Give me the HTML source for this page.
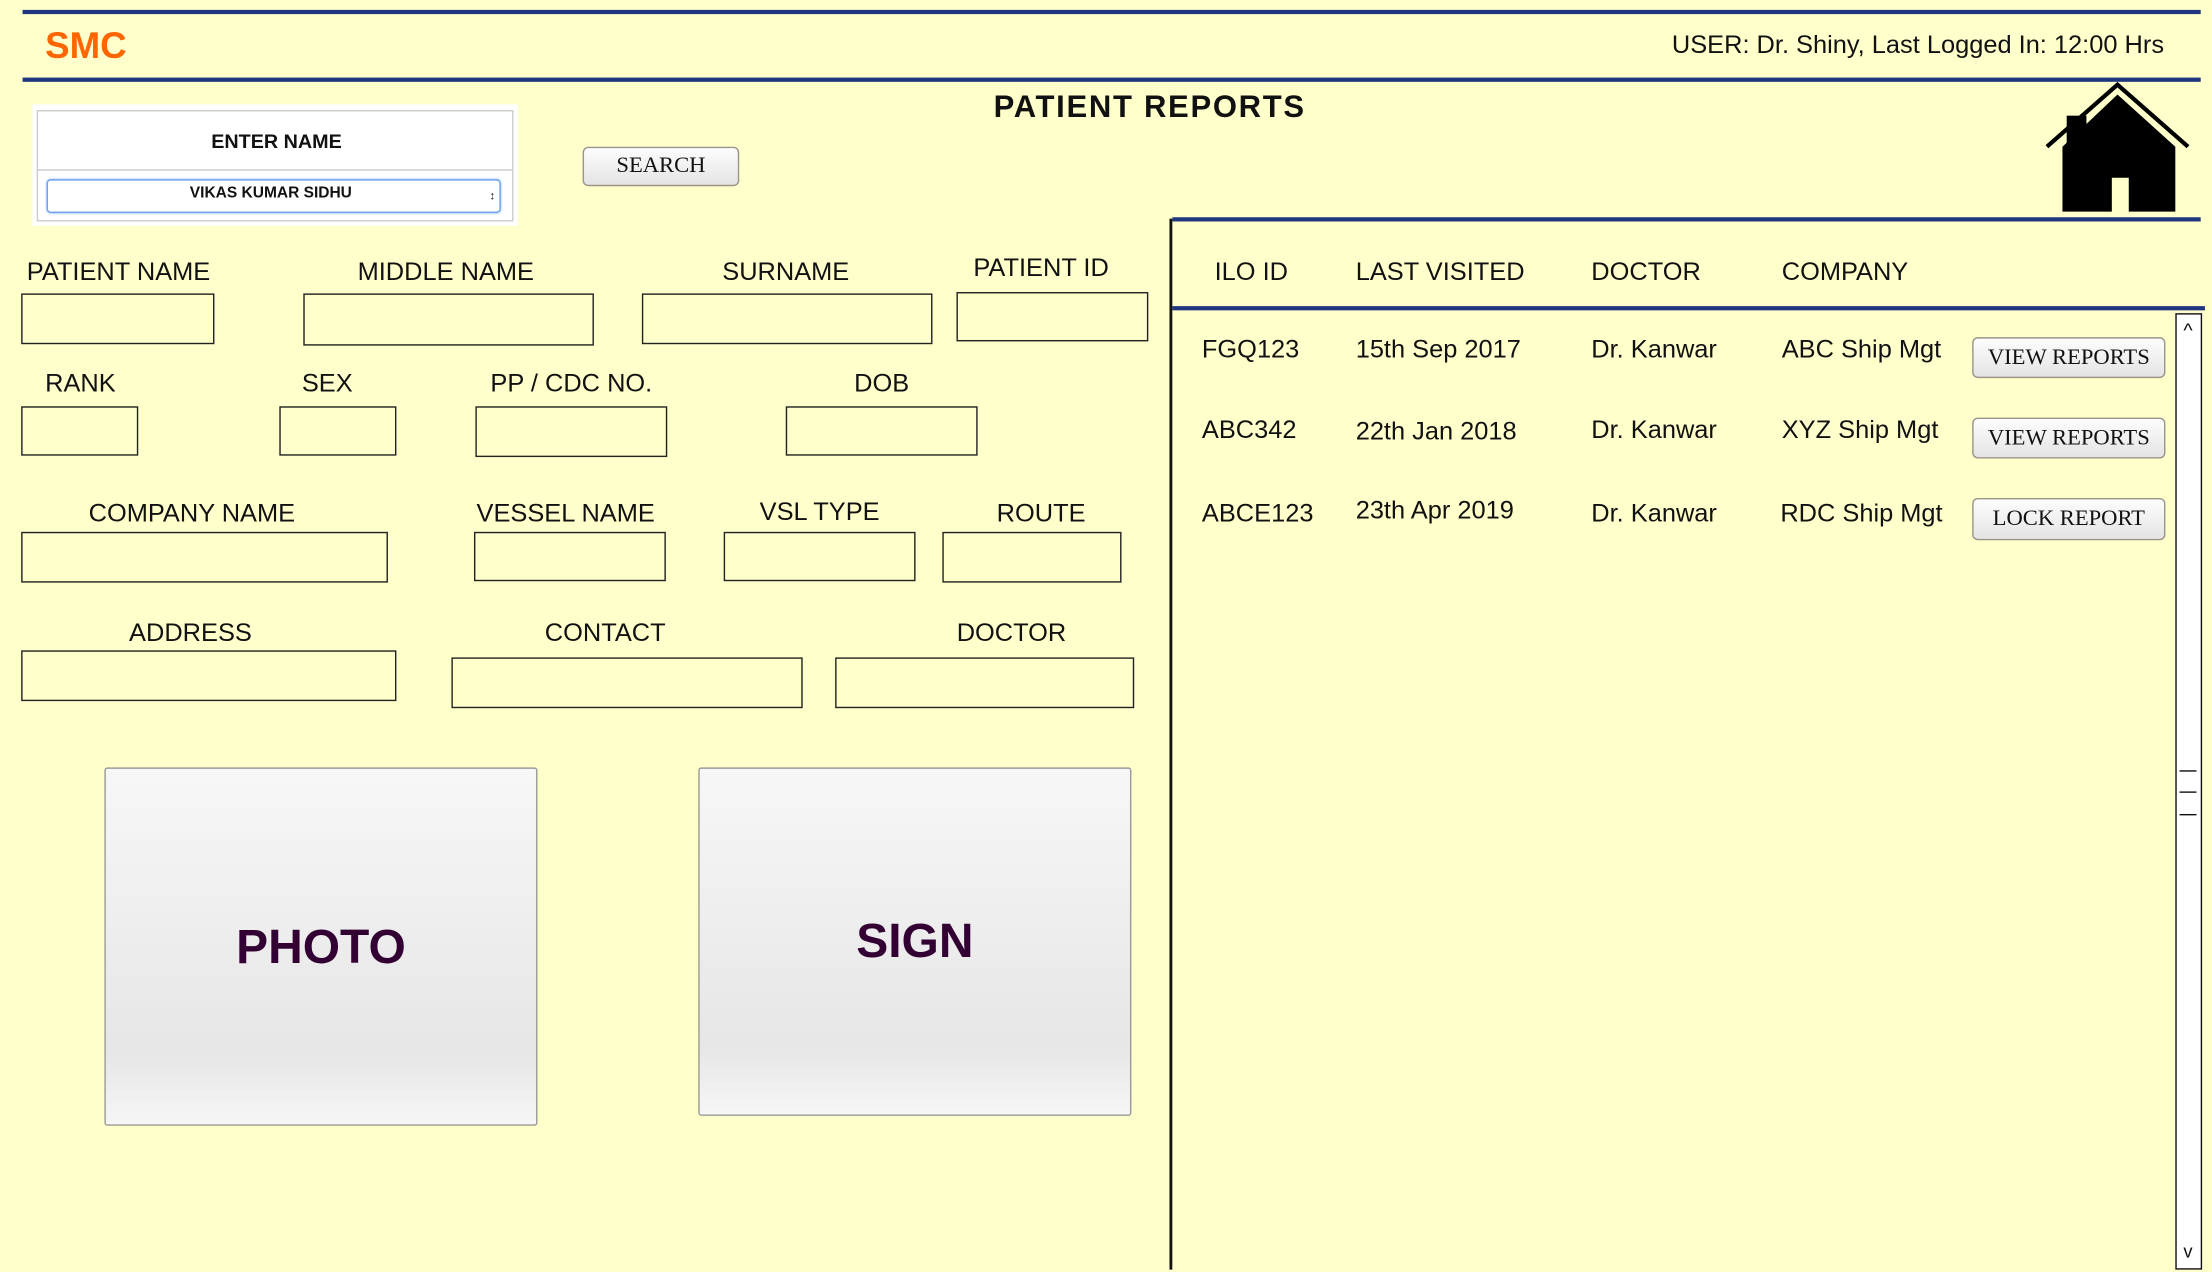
<!DOCTYPE html>
<html><head><meta charset="utf-8"><style>
html,body{margin:0;padding:0;}
body{width:2212px;height:1272px;overflow:hidden;background:#ffffcc;font-family:"Liberation Sans",sans-serif;}
#s{position:absolute;left:0;top:0;width:1568px;height:902px;transform:scale(1.41071);transform-origin:0 0;background:#ffffcc;}
.a{position:absolute;}
.ln{position:absolute;background:#1f3580;height:3px;}
.lb{position:absolute;font-size:18px;color:#111;white-space:nowrap;transform:translate(-50%,-50%);}
.bx{position:absolute;border:1px solid #222;background:#ffffcc;box-sizing:border-box;}
.btn{position:absolute;border:1.5px solid #9a948a;border-radius:4px;background:linear-gradient(#fdfdfd,#e4e4e4);font-family:"Liberation Serif",serif;font-size:16px;color:#111;text-align:center;box-sizing:border-box;}
.t{position:absolute;font-size:18px;color:#111;white-space:nowrap;transform:translateY(-50%);}
.pic{position:absolute;border:1px solid #999;border-radius:2px;background:linear-gradient(#f7f7f7,#e6e6e6 80%,#f6f6f6);box-sizing:border-box;}
.pic span{position:absolute;left:0;right:0;text-align:center;font-weight:bold;font-size:34px;color:#330033;transform:translateY(-50%);}
</style></head><body><div id="s">
<div class="ln" style="left:16px;top:7px;width:1544px;"></div>
<div class="ln" style="left:16px;top:55px;width:1544px;"></div>
<div class="a" style="left:32px;top:17px;font-size:26px;font-weight:bold;color:#ff6600;">SMC</div>
<div class="t" style="right:34px;top:32px;">USER: Dr. Shiny, Last Logged In: 12:00 Hrs</div>

<div class="a" style="left:23px;top:74px;width:344px;height:86px;background:#fff;"></div>
<div class="a" style="left:26px;top:78px;width:338px;height:79px;border:1px solid #ccc;box-sizing:border-box;"></div>
<div class="a" style="left:26px;top:120px;width:338px;height:1px;background:#ccc;"></div>
<div class="lb" style="left:196px;top:100px;font-size:14px;font-weight:bold;">ENTER NAME</div>
<div class="a" style="left:33px;top:127px;width:322px;height:24px;border:1px solid #6fa0f0;border-radius:3px;background:#fff;box-sizing:border-box;box-shadow:0 0 2px #9bc0f5;"></div>
<div class="lb" style="left:192px;top:137px;font-size:11px;font-weight:bold;">VIKAS KUMAR SIDHU</div>
<div class="lb" style="left:349px;top:139px;font-size:8px;">&#8597;</div>

<div class="btn" style="left:413px;top:104px;width:111px;height:28px;line-height:25px;">SEARCH</div>
<div class="lb" style="left:815px;top:76px;font-size:22px;font-weight:bold;letter-spacing:1.2px;">PATIENT REPORTS</div>

<svg class="a" style="left:1440px;top:55px;" width="120" height="100" viewBox="1440 55 120 100">
<rect x="1465" y="82" width="14" height="30" fill="#000"/>
<polygon points="1462,104 1501,67 1542,104 1542,150 1509,150 1509,126 1497,126 1497,150 1462,150" fill="#000"/>
<polyline points="1451,104 1501,60 1551,104" fill="none" stroke="#000" stroke-width="3"/>
</svg>

<div class="a" style="left:829px;top:155px;width:1.5px;height:745px;background:#111;"></div>
<div class="ln" style="left:831px;top:154px;width:729px;"></div>
<div class="ln" style="left:831px;top:217px;width:732px;"></div>
<div class="t" style="left:861px;top:193px;">ILO ID</div>
<div class="t" style="left:961px;top:193px;">LAST VISITED</div>
<div class="t" style="left:1128px;top:193px;">DOCTOR</div>
<div class="t" style="left:1263px;top:193px;">COMPANY</div>

<div class="t" style="left:852px;top:248px;">FGQ123</div>
<div class="t" style="left:961px;top:248px;">15th Sep 2017</div>
<div class="t" style="left:1128px;top:248px;">Dr. Kanwar</div>
<div class="t" style="left:1263px;top:248px;">ABC Ship Mgt</div>
<div class="btn" style="left:1398px;top:239px;width:137px;height:29px;line-height:27px;">VIEW REPORTS</div>

<div class="t" style="left:852px;top:305px;">ABC342</div>
<div class="t" style="left:961px;top:306px;">22th Jan 2018</div>
<div class="t" style="left:1128px;top:305px;">Dr. Kanwar</div>
<div class="t" style="left:1263px;top:305px;">XYZ Ship Mgt</div>
<div class="btn" style="left:1398px;top:296px;width:137px;height:29px;line-height:27px;">VIEW REPORTS</div>

<div class="t" style="left:852px;top:364px;">ABCE123</div>
<div class="t" style="left:961px;top:362px;">23th Apr 2019</div>
<div class="t" style="left:1128px;top:364px;">Dr. Kanwar</div>
<div class="t" style="left:1262px;top:364px;">RDC Ship Mgt</div>
<div class="btn" style="left:1398px;top:353px;width:137px;height:30px;line-height:28px;">LOCK REPORT</div>

<div class="a" style="left:1542px;top:222px;width:19px;height:678px;background:#fff;border:1px solid #111;box-sizing:border-box;"></div>
<div class="lb" style="left:1551px;top:234px;font-size:14px;">^</div>
<div class="lb" style="left:1551px;top:887px;font-size:13px;">v</div>
<div class="a" style="left:1545px;top:546px;width:12px;height:30px;border-top:1px solid #111;border-bottom:1px solid #111;"></div>
<div class="a" style="left:1545px;top:561px;width:12px;height:1px;background:#111;"></div>

<div class="t" style="left:19px;top:193px;">PATIENT NAME</div>
<div class="lb" style="left:316px;top:193px;">MIDDLE NAME</div>
<div class="lb" style="left:557px;top:193px;">SURNAME</div>
<div class="lb" style="left:738px;top:190px;">PATIENT ID</div>
<div class="bx" style="left:15px;top:208px;width:137px;height:36px;"></div>
<div class="bx" style="left:215px;top:208px;width:206px;height:37px;"></div>
<div class="bx" style="left:455px;top:208px;width:206px;height:36px;"></div>
<div class="bx" style="left:678px;top:207px;width:136px;height:35px;"></div>

<div class="lb" style="left:57px;top:272px;">RANK</div>
<div class="lb" style="left:232px;top:272px;">SEX</div>
<div class="lb" style="left:405px;top:272px;">PP / CDC NO.</div>
<div class="lb" style="left:625px;top:272px;">DOB</div>
<div class="bx" style="left:15px;top:288px;width:83px;height:35px;"></div>
<div class="bx" style="left:198px;top:288px;width:83px;height:35px;"></div>
<div class="bx" style="left:337px;top:288px;width:136px;height:36px;"></div>
<div class="bx" style="left:557px;top:288px;width:136px;height:35px;"></div>

<div class="lb" style="left:136px;top:364px;">COMPANY NAME</div>
<div class="lb" style="left:401px;top:364px;">VESSEL NAME</div>
<div class="lb" style="left:581px;top:363px;">VSL TYPE</div>
<div class="lb" style="left:738px;top:364px;">ROUTE</div>
<div class="bx" style="left:15px;top:377px;width:260px;height:36px;"></div>
<div class="bx" style="left:336px;top:377px;width:136px;height:35px;"></div>
<div class="bx" style="left:513px;top:377px;width:136px;height:35px;"></div>
<div class="bx" style="left:668px;top:377px;width:127px;height:36px;"></div>

<div class="lb" style="left:135px;top:449px;">ADDRESS</div>
<div class="lb" style="left:429px;top:449px;">CONTACT</div>
<div class="lb" style="left:717px;top:449px;">DOCTOR</div>
<div class="bx" style="left:15px;top:461px;width:266px;height:36px;"></div>
<div class="bx" style="left:320px;top:466px;width:249px;height:36px;"></div>
<div class="bx" style="left:592px;top:466px;width:212px;height:36px;"></div>

<div class="pic" style="left:74px;top:544px;width:307px;height:254px;"><span style="top:127px;">PHOTO</span></div>
<div class="pic" style="left:495px;top:544px;width:307px;height:247px;"><span style="top:123px;">SIGN</span></div>
</div></body></html>
